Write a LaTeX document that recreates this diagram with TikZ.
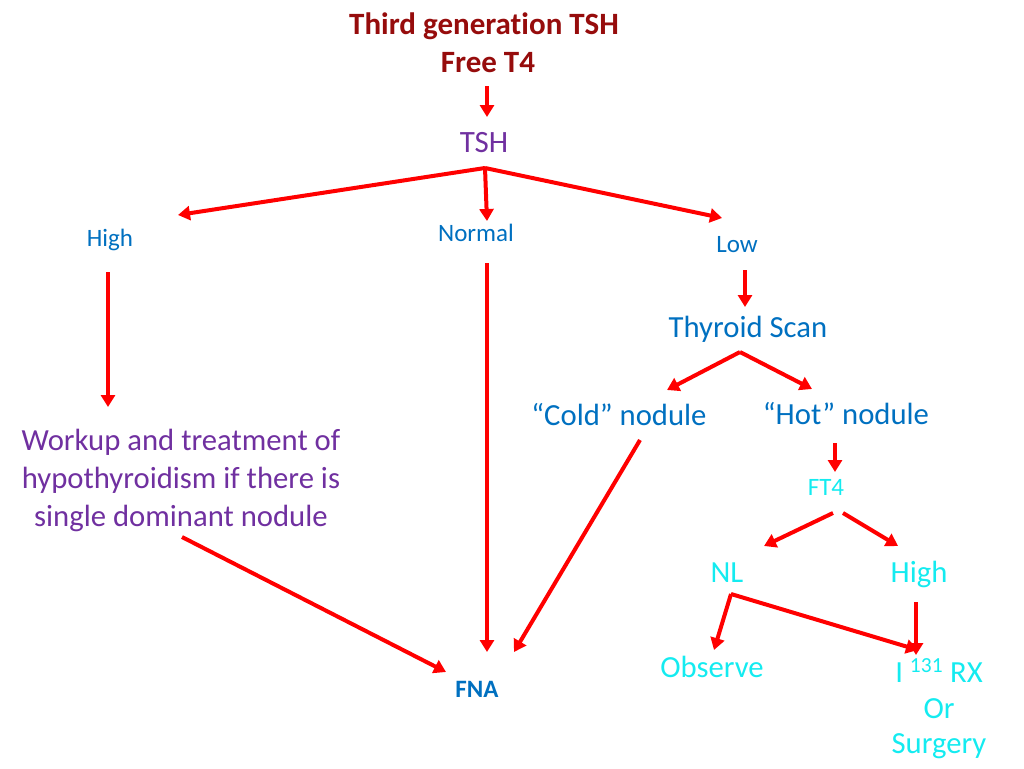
\documentclass[tikz,border=0pt]{standalone}
\usepackage{fontspec}
\setmainfont[Ligatures={NoCommon},RawFeature={-clig;-calt}]{Carlito}
\usetikzlibrary{arrows.meta}
\definecolor{titlered}{RGB}{150,12,12}
\definecolor{tpurple}{RGB}{112,48,160}
\definecolor{tblue}{RGB}{0,112,192}
\definecolor{tcyan}{RGB}{20,235,240}
\definecolor{ared}{RGB}{255,0,0}
\tikzset{
  lbl/.style={anchor=base, inner sep=0pt, align=center},
  big/.style={font=\fontsize{30.7}{38}\selectfont},
  small/.style={font=\fontsize{25}{30}\selectfont},
  arr/.style={draw=ared, line width=4pt, -{Triangle[length=12pt,width=14pt]}},
}
\begin{document}
\begin{tikzpicture}[x=1pt,y=-1pt]
\useasboundingbox (0,0) rectangle (1024,768);
% texts
\node[lbl, text=titlered, font=\fontsize{31}{39}\bfseries\selectfont] (title) at (484,35) {Third genera{}tion TSH};
\node[lbl, text=titlered, font=\fontsize{31}{39}\bfseries\selectfont] (free) at (488,72) {Free T4};
\node[lbl, text=tpurple, font=\fontsize{31}{39}\selectfont] (tsh) at (484,152) {TSH};
\node[lbl, small, text=tblue] (high) at (110,246) {High};
\node[lbl, small, text=tblue] (normal) at (476,241) {Normal};
\node[lbl, small, text=tblue] (low) at (737,252) {Low};
\node[lbl, big, text=tblue] (scan) at (748,337) {Thyroid Scan};
\node[lbl, big, text=tblue] (cold) at (619,425) {“Cold” nodule};
\node[lbl, big, text=tblue] (hot) at (846,424) {“Hot” nodule};
\node[lbl, small, text=tcyan] (ft4) at (826,495) {FT4};
\node[lbl, big, text=tcyan] (nl) at (727,582) {NL};
\node[lbl, big, text=tcyan] (high2) at (919,582) {High};
\node[lbl, big, text=tcyan] (observe) at (712,677) {Observe};
\node[lbl, big, text=tcyan] (i131) at (939,682) {I \textsuperscript{131} RX};
\node[lbl, big, text=tcyan] (or) at (939,718) {Or};
\node[lbl, big, text=tcyan] (surgery) at (939,753) {Surgery};
\node[lbl, small, text=tblue, font=\fontsize{25}{30}\bfseries\selectfont] (fna) at (477,697) {FNA};
\node[lbl, big, text=tpurple] (work1) at (181,450) {Workup and treatment of};
\node[lbl, big, text=tpurple] (work2) at (181,488) {hypothyroidism if there is};
\node[lbl, big, text=tpurple] (work3) at (181,526) {single dominant nodule};
% connector points
\coordinate (freeB) at (487,86);
\coordinate (tshT) at (487,117);
\coordinate (tshB) at (485,168);
\coordinate (highT) at (178,215);
\coordinate (normalT) at (487,221);
\coordinate (lowT) at (722,218);
\coordinate (highB) at (108,272);
\coordinate (workT) at (108,407);
\coordinate (normalB) at (487,263);
\coordinate (fnaT) at (487,652);
\coordinate (lowB) at (745,270);
\coordinate (scanT) at (745,307);
\coordinate (scanB) at (740,352);
\coordinate (coldT) at (667,390);
\coordinate (hotT) at (812,389);
\coordinate (coldB) at (640,440);
\coordinate (fnaR) at (514,652);
\coordinate (workB) at (182,537);
\coordinate (fnaL) at (446,672);
\coordinate (hotB) at (835,443);
\coordinate (ft4T) at (835,472);
\coordinate (ft4BL) at (833,513);
\coordinate (ft4BR) at (843,513);
\coordinate (nlT) at (764,546);
\coordinate (high2T) at (898,546);
\coordinate (nlB) at (731,594);
\coordinate (observeT) at (714,650);
\coordinate (i131T) at (918,650);
\coordinate (high2B) at (916,602);
\coordinate (i131Tb) at (916,655);
% connectors
\draw[arr] (freeB) -- (tshT);
\draw[arr] (tshB) -- (highT);
\draw[arr] (tshB) -- (normalT);
\draw[arr] (tshB) -- (lowT);
\draw[arr] (highB) -- (workT);
\draw[arr] (normalB) -- (fnaT);
\draw[arr] (lowB) -- (scanT);
\draw[arr] (scanB) -- (coldT);
\draw[arr] (scanB) -- (hotT);
\draw[arr] (coldB) -- (fnaR);
\draw[arr] (workB) -- (fnaL);
\draw[arr] (hotB) -- (ft4T);
\draw[arr] (ft4BL) -- (nlT);
\draw[arr] (ft4BR) -- (high2T);
\draw[arr] (nlB) -- (observeT);
\draw[arr] (nlB) -- (i131T);
\draw[arr] (high2B) -- (i131Tb);
\end{tikzpicture}
\end{document}
